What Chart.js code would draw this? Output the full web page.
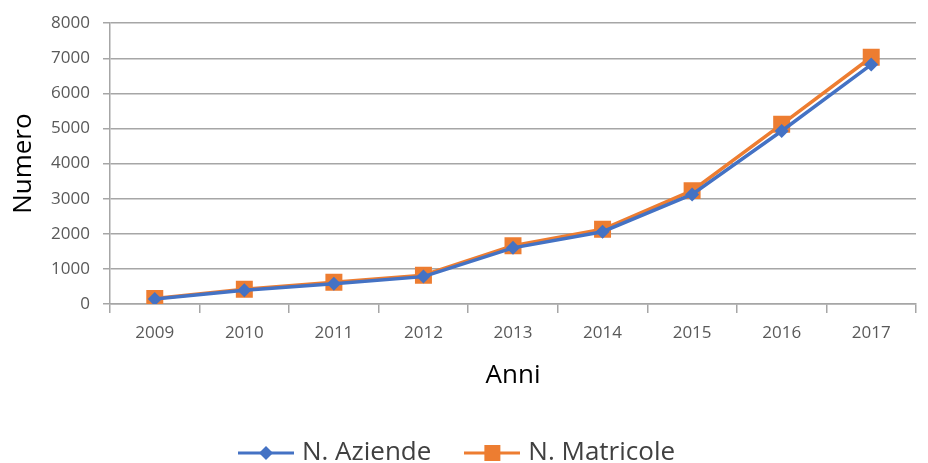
<!DOCTYPE html>
<html>
<head>
<meta charset="utf-8">
<script src="https://cdn.jsdelivr.net/npm/chart.js@4.4.1/dist/chart.umd.min.js"></script>
<style>
  html, body { margin: 0; padding: 0; background: #fff; }
  #wrap { width: 928px; height: 463px; }
</style>
</head>
<body>
<div id="wrap"><canvas id="chart" width="928" height="463"></canvas></div>
<script>
  const anni = ["2009", "2010", "2011", "2012", "2013", "2014", "2015", "2016", "2017"];
  const aziende = [140, 390, 580, 780, 1600, 2060, 3120, 4930, 6820];
  const matricole = [160, 420, 620, 820, 1660, 2130, 3230, 5120, 7030];
  const yTicks = [0, 1000, 2000, 3000, 4000, 5000, 6000, 7000, 8000];

  const BLUE = "#4472c4";
  const ORANGE = "#ed7d31";
  const FONT = "'Open Sans', 'Noto Sans', sans-serif";

  // legend icons: a short line with the marker on it
  function legendIcon(color, shape) {
    const c = document.createElement("canvas");
    c.width = 56; c.height = 20;
    const ctx = c.getContext("2d");
    ctx.strokeStyle = color;
    ctx.lineWidth = 3;
    ctx.beginPath();
    ctx.moveTo(0, 10); ctx.lineTo(56, 10);
    ctx.stroke();
    ctx.fillStyle = color;
    if (shape === "diamond") {
      ctx.beginPath();
      ctx.moveTo(28, 3); ctx.lineTo(35, 10); ctx.lineTo(28, 17); ctx.lineTo(21, 10);
      ctx.closePath();
      ctx.fill();
    } else {
      ctx.fillRect(20, 2, 16, 16);
    }
    return c;
  }
  const icons = [legendIcon(BLUE, "diamond"), legendIcon(ORANGE, "square")];

  const ctx = document.getElementById("chart").getContext("2d");
  new Chart(ctx, {
    type: "line",
    data: {
      labels: anni,
      datasets: [
        {
          label: "N. Aziende",
          data: aziende,
          borderColor: BLUE,
          backgroundColor: BLUE,
          borderWidth: 3.5,
          pointStyle: "rectRot",
          pointRadius: 7,
          pointBorderWidth: 0,
        },
        {
          label: "N. Matricole",
          data: matricole,
          borderColor: ORANGE,
          backgroundColor: ORANGE,
          borderWidth: 3.5,
          pointStyle: "rect",
          pointRadius: 12,
          pointBorderWidth: 0,
        },
      ],
    },
    options: {
      responsive: false,
      animation: false,
      layout: { padding: { top: 23, right: 10, left: 0, bottom: -13 } },
      plugins: {
        tooltip: { enabled: false },
        legend: {
          position: "bottom",
          labels: {
            usePointStyle: true,
            pointStyleWidth: 46,
            color: "#404040",
            font: { family: FONT, size: 26 },
            padding: 38,
            generateLabels: (chart) =>
              chart.data.datasets.map((ds, i) => ({
                text: ds.label,
                pointStyle: icons[i],
                fillStyle: ds.borderColor,
                strokeStyle: ds.borderColor,
                lineWidth: 0,
                datasetIndex: i,
                fontColor: "#404040",
              })),
          },
        },
      },
      scales: {
        x: {
          offset: true,
          grid: {
            offset: true,
            drawOnChartArea: false,
            color: "#a6a6a6",
            lineWidth: 1.5,
            tickLength: 9,
          },
          border: { color: "#a6a6a6", width: 1.5 },
          ticks: { color: "#595959", font: { family: FONT, size: 17 }, padding: 10, maxRotation: 0 },
          title: {
            display: true,
            text: "Anni",
            color: "#000",
            font: { family: FONT, size: 26 },
            padding: { top: 4, bottom: 11 },
          },
          afterFit: (scale) => { scale.height = 98; },
        },
        y: {
          min: 0,
          max: 8000,
          afterBuildTicks: (scale) => { scale.ticks = yTicks.map((v) => ({ value: v })); },
          grid: { color: "#a6a6a6", lineWidth: 1.5, tickLength: 7 },
          border: { color: "#a6a6a6", width: 1.5 },
          ticks: {
            color: "#595959",
            font: { family: FONT, size: 17 },
            padding: 13,
            callback: (v) => String(v),
          },
          title: {
            display: true,
            text: "Numero",
            color: "#000",
            font: { family: FONT, size: 26 },
            padding: { top: 8, bottom: 4 },
          },
          afterFit: (scale) => { scale.width = 110; },
        },
      },
    },
  });
</script>
</body>
</html>
